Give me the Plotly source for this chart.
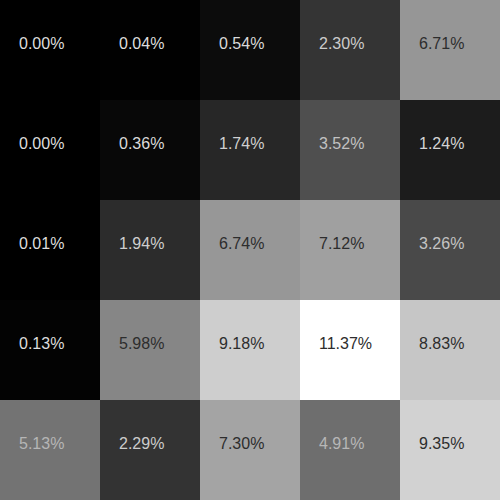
import plotly.graph_objects as go

x_labels = ["c0", "c1", "c2", "c3", "c4"]
y_labels = ["r0", "r1", "r2", "r3", "r4"]
values = [
    [0.00, 0.04, 0.54, 2.30, 6.71],
    [0.00, 0.36, 1.74, 3.52, 1.24],
    [0.01, 1.94, 6.74, 7.12, 3.26],
    [0.13, 5.98, 9.18, 11.37, 8.83],
    [5.13, 2.29, 7.30, 4.91, 9.35],
]

zmin, zmax = 0.0, max(max(r) for r in values)

fig = go.Figure(go.Heatmap(
    z=values, x=x_labels, y=y_labels,
    zmin=zmin, zmax=zmax,
    colorscale=[[0, "rgb(0,0,0)"], [1, "rgb(255,255,255)"]],
    showscale=False,
    hoverinfo="skip",
))

annotations = []
for i, row in enumerate(values):
    for j, v in enumerate(row):
        g = 255 * (v - zmin) / (zmax - zmin)
        if g < 125:
            t = int(round(222 - 0.35 * g))
        else:
            t = 45
        annotations.append(dict(
            x=x_labels[j], y=y_labels[i], xref="x", yref="y",
            text=f"{v:.2f}%", showarrow=False,
            xanchor="left", xshift=-33, yshift=7,
            font=dict(family="Liberation Sans, Arial, sans-serif",
                      size=16, color=f"rgb({t},{t},{t})"),
        ))

fig.update_layout(
    width=500, height=500,
    margin=dict(l=0, r=0, t=0, b=0),
    xaxis=dict(visible=False),
    yaxis=dict(visible=False, autorange="reversed"),
    paper_bgcolor="white", plot_bgcolor="white",
    annotations=annotations,
)
fig.write_html("out.html", config={"displayModeBar": False},
               post_script="document.body.style.margin='0';")
